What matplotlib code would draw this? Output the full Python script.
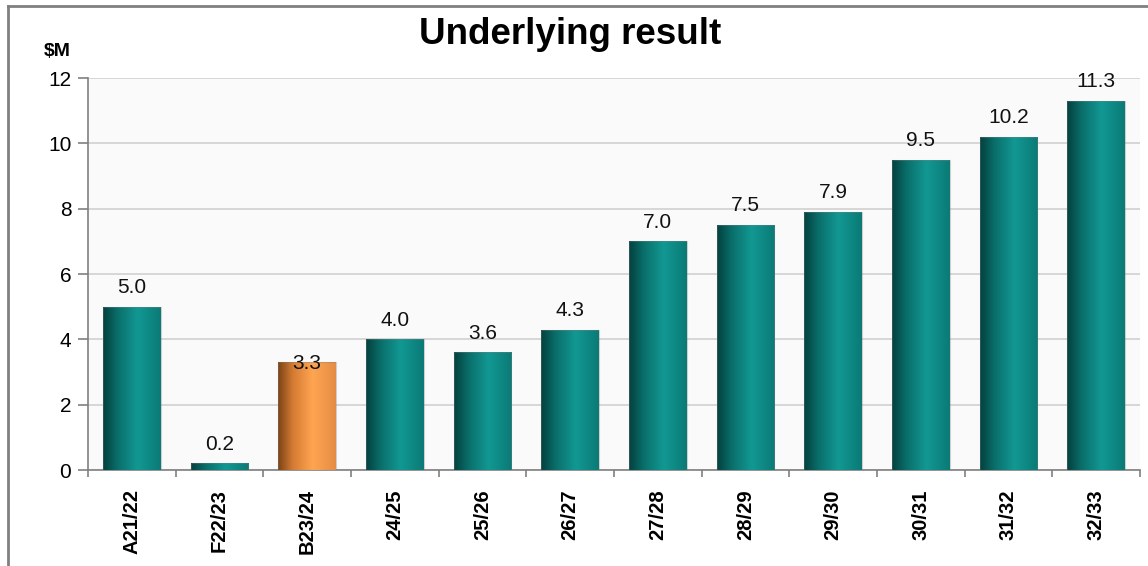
import matplotlib
matplotlib.use("Agg")
import matplotlib.pyplot as plt
import numpy as np
from matplotlib.colors import LinearSegmentedColormap
from matplotlib.lines import Line2D

plt.rcParams['font.family'] = ['Liberation Sans', 'DejaVu Sans']

categories = ["A21/22", "F22/23", "B23/24", "24/25", "25/26", "26/27",
              "27/28", "28/29", "29/30", "30/31", "31/32", "32/33"]
values = [5.0, 0.2, 3.3, 4.0, 3.6, 4.3, 7.0, 7.5, 7.9, 9.5, 10.2, 11.3]
highlight = ["B23/24"]
title = "Underlying result"
unit_label = "$M"

teal_cmap = LinearSegmentedColormap.from_list(
    "teal", [(0.0, "#03403e"), (0.25, "#0a6e6a"), (0.6, "#129893"), (1.0, "#0b7a76")])
orange_cmap = LinearSegmentedColormap.from_list(
    "orange", [(0.0, "#7a4216"), (0.25, "#d37a32"), (0.6, "#ffa552"), (1.0, "#e48d44")])

fig = plt.figure(figsize=(11.48, 5.66), dpi=100)
ax = fig.add_axes([88/1148, 1-470/566, (1140-88)/1148, (470-78)/566])
ax.set_facecolor("#fafafa")

x = np.arange(len(categories))
bw = 0.66
bars = ax.bar(x, values, width=bw, color="none", edgecolor="none", zorder=3)
grad = np.linspace(0, 1, 256).reshape(1, -1)
for cat, b, v in zip(categories, bars, values):
    cmap = orange_cmap if cat in highlight else teal_cmap
    x0 = b.get_x()
    im = ax.imshow(grad, cmap=cmap, aspect="auto", extent=[x0, x0 + bw, 0, v],
                   zorder=3, interpolation="bicubic")
    im.set_clip_path(b)
    ax.add_patch(plt.Rectangle((x0, 0), bw, v, fill=False,
                               edgecolor=(0.5, 0.5, 0.5, 0.35), lw=0.8, zorder=4))
    if cat in highlight:
        ax.annotate(f"{v:.1f}", (b.get_x() + bw/2, v), xytext=(0, -1),
                    textcoords="offset points", ha="center", va="center",
                    fontsize=15, color="#111111", zorder=5)
    else:
        ax.annotate(f"{v:.1f}", (b.get_x() + bw/2, v), xytext=(0, 7),
                    textcoords="offset points", ha="center", va="bottom",
                    fontsize=15, color="#111111", zorder=5)

ax.set_xlim(-0.5, len(categories) - 0.5)
ax.set_ylim(0, 12)
ax.set_yticks(np.arange(0, 13, 2))
ax.yaxis.grid(True, color="#d0d0d0", lw=1.2, zorder=0)
ax.set_axisbelow(True)

ax.set_xticks(x)
ax.set_xticklabels(categories, rotation=90, fontsize=14.5, fontweight="bold")
ax.set_xticks(np.arange(-0.5, len(categories) + 0.5, 1), minor=True)
ax.tick_params(axis="x", which="major", length=0, pad=14)
ax.tick_params(axis="x", which="minor", length=5, color="#808080", width=1.2)
ax.tick_params(axis="y", length=7, color="#808080", width=1.2, labelsize=15, pad=5)

for s in ["top", "right"]:
    ax.spines[s].set_visible(False)
for s in ["left", "bottom"]:
    ax.spines[s].set_color("#808080")
    ax.spines[s].set_linewidth(1.2)

fig.text(570/1148, 1 - 44/566, title, ha="center", va="baseline",
         fontsize=26.5, fontweight="bold")
fig.text(57/1148, 1 - 51/566, unit_label, ha="center", va="center",
         fontsize=14, fontweight="bold")

# outer frame
fig.add_artist(Line2D([8/1148, 8/1148], [0, 1 - 6/566], transform=fig.transFigure,
                      color="#808080", lw=2))
fig.add_artist(Line2D([8/1148, 1], [1 - 6/566, 1 - 6/566], transform=fig.transFigure,
                      color="#808080", lw=2))

fig.savefig("out.png", dpi=100)
